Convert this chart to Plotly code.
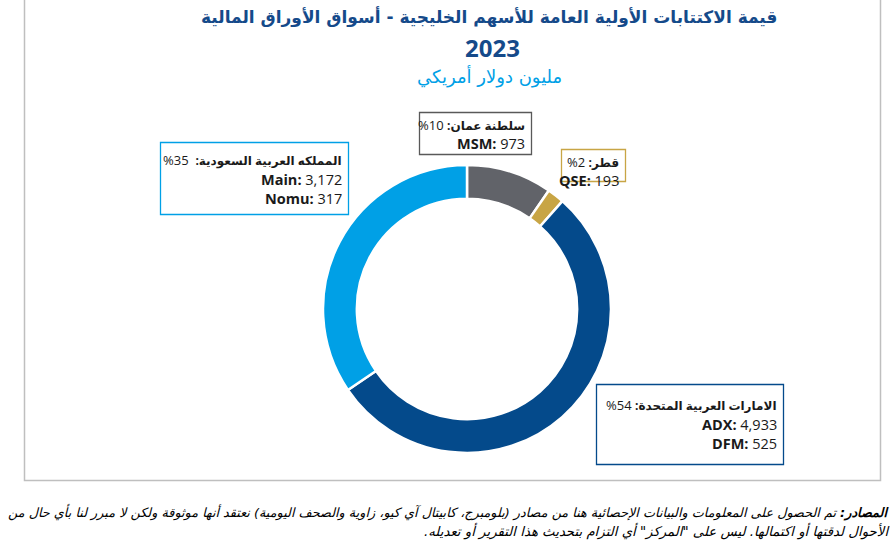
import plotly.graph_objects as go

W, H = 895, 559

# ---- data ----
markets = ["سلطنة عمان", "قطر", "الامارات العربية المتحدة", "المملكه العربية السعودية"]
oman_exch = ["MSM"]
oman_vals = [973]
qatar_exch = ["QSE"]
qatar_vals = [193]
uae_exch = ["ADX", "DFM"]
uae_vals = [4933, 525]
saudi_exch = ["Main", "Nomu"]
saudi_vals = [3172, 317]

colors = ["#616369", "#C8A545", "#044A8B", "#00A0E6"]
border_colors = ["#595959", "#C8A545", "#044A8B", "#00A0E6"]

groups = [(oman_exch, oman_vals), (qatar_exch, qatar_vals), (uae_exch, uae_vals), (saudi_exch, saudi_vals)]
totals = [sum(v) for _, v in groups]
grand = sum(totals)
pcts = [round(100 * t / grand) for t in totals]

RLM = "\u200f"
LATIN = "Open Sans, DejaVu Sans, sans-serif"
ARABIC = "DejaVu Sans, sans-serif"


def px(x):
    return x / W


def py(y):
    return 1 - y / H


fig = go.Figure()
cx, cy, r = 467, 309, 144
fig.add_trace(go.Pie(
    labels=markets, values=totals, sort=False, direction="clockwise", rotation=0,
    hole=0.765, marker=dict(colors=colors, line=dict(color="white", width=2.5)),
    textinfo="none", hoverinfo="skip", showlegend=False,
    domain=dict(x=[px(cx - r), px(cx + r)], y=[py(cy + r), py(cy - r)]),
))

shapes = []
annotations = []


def text_at(x, y, text, size, color="#1a1a1a", family=LATIN, anchor="right"):
    annotations.append(dict(xref="paper", yref="paper", x=px(x), y=py(y), xanchor=anchor,
                            yanchor="middle", showarrow=False, text=text,
                            font=dict(family=family, size=size, color=color)))


# outer frame
shapes.append(dict(type="rect", xref="paper", yref="paper", x0=px(24.5), x1=px(880.5),
                   y0=py(480.5), y1=1.05, line=dict(color="#BFBFBF", width=1.5)))

# label boxes: (box x0,x1,y0,y1 in px, text right x, line y centers)
boxes = [
    (419.5, 531.5, 112.5, 154.5, 527, [125, 143]),
    (561.5, 625.5, 149.5, 181.5, 621, [162, 180]),
    (596.5, 783.5, 384.5, 464.5, 779, [405, 424, 443]),
    (160.5, 348.5, 142.5, 214.5, 344, [160, 179, 198]),
]
for i, (bx0, bx1, by0, by1, tx, ys) in enumerate(boxes):
    shapes.append(dict(type="rect", xref="paper", yref="paper", x0=px(bx0), x1=px(bx1),
                       y0=py(by1), y1=py(by0), line=dict(color=border_colors[i], width=1.3),
                       fillcolor="white"))
    exch, vals = groups[i]
    gap = "  " if i == 3 else " "
    first = (RLM + "<b><span style='font-size:12px'>" + markets[i] + ":</span></b>"
             + gap + f"{pcts[i]}%" + RLM)
    text_at(tx, ys[0], first, 13)
    for (e, v), yy in zip(zip(exch, vals), ys[1:]):
        text_at(tx, yy, f"<b>{e}:</b> {v:,}", 14.5)

# titles
title1 = "قيمة الاكتتابات الأولية العامة للأسهم الخليجية - أسواق الأوراق المالية"
title2 = "2023"
subtitle = "مليون دولار أمريكي"
text_at(489, 17, RLM + "<b>" + title1 + "</b>" + RLM, 17, "#154A8A", ARABIC, "center")
text_at(492, 47, "<b>" + title2 + "</b>", 24, "#154A8A", LATIN, "center")
text_at(489, 76, RLM + subtitle + RLM, 18, "#00A0E6", ARABIC, "center")

# footer
foot_label = "المصادر:"
foot1 = "تم الحصول على المعلومات والبيانات الإحصائية هنا من مصادر (بلومبرج، كابيتال آي كيو، زاوية والصحف اليومية) نعتقد أنها موثوقة ولكن لا مبرر لنا بأي حال من"
foot2 = "الأحوال لدقتها أو اكتمالها. ليس على \"المركز\" أي التزام بتحديث هذا التقرير أو تعديله."
text_at(891, 512, RLM + "<b><i>" + foot_label + "</i></b><i> " + foot1 + "</i>" + RLM, 12.8, "#000000", ARABIC)
text_at(891, 531, RLM + "<i>" + foot2 + "</i>" + RLM, 13.3, "#000000", ARABIC)

fig.update_layout(width=W, height=H, margin=dict(l=0, r=0, t=0, b=0),
                  paper_bgcolor="white", plot_bgcolor="white",
                  shapes=shapes, annotations=annotations)

fig.write_html("out.html", config={"displayModeBar": False},
               post_script="document.body.style.margin='0';")
